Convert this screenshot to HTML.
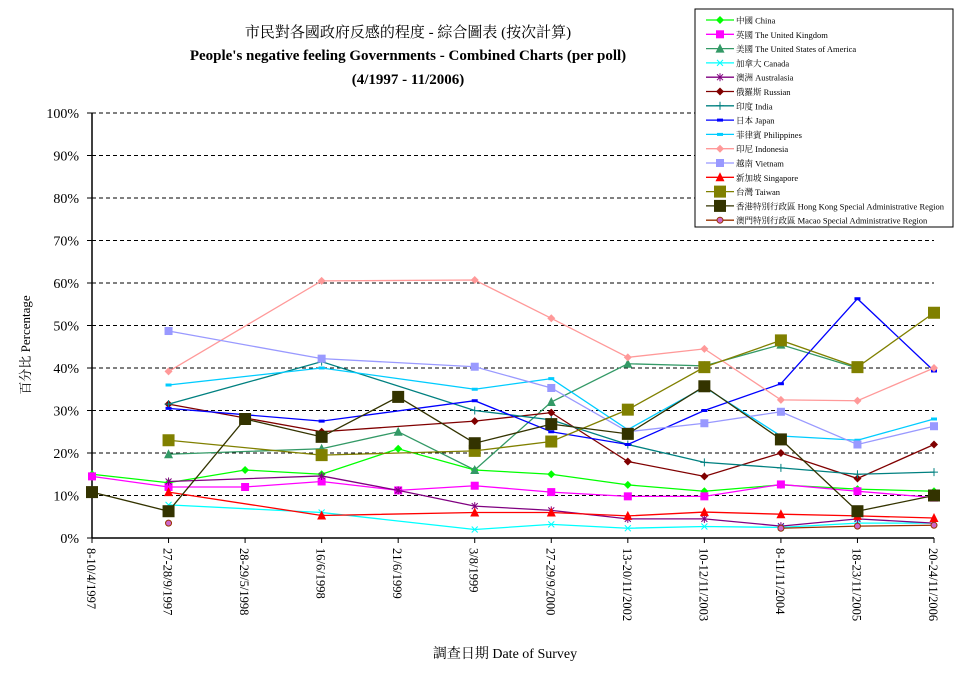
<!DOCTYPE html>
<html><head><meta charset="utf-8">
<style>
body{margin:0;background:#fff;width:974px;height:680px;overflow:hidden;font-family:"Liberation Serif","Noto Serif CJK SC",serif;}
svg text{font-family:"Liberation Serif","Noto Serif CJK SC",serif;}
</style></head>
<body>
<svg id="chart" width="974" height="680" xmlns="http://www.w3.org/2000/svg">
<text x="408" y="37" font-size="15" text-anchor="middle" font-family="'Liberation Serif','Noto Serif CJK TC',serif">市民對各國政府反感的程度 - 綜合圖表 (按次計算)</text>
<text x="408" y="60" font-size="15" font-weight="bold" text-anchor="middle">People's negative feeling Governments - Combined Charts (per poll)</text>
<text x="408" y="84" font-size="15" font-weight="bold" text-anchor="middle">(4/1997 - 11/2006)</text>
<g id="grid"></g><g id="axes"></g><g id="series"></g>
<text transform="translate(30,345) rotate(-90)" font-size="13" text-anchor="middle" font-family="'Liberation Serif','Noto Serif CJK TC',serif">百分比 Percentage</text>
<text x="505" y="658" font-size="14" text-anchor="middle" font-family="'Liberation Serif','Noto Serif CJK TC',serif">調查日期 Date of Survey</text>
<g id="legend"></g>
</svg>
<script>
const categories=["8-10/4/1997","27-28/9/1997","28-29/5/1998","16/6/1998","21/6/1999","3/8/1999","27-29/9/2000","13-20/11/2002","10-12/11/2003","8-11/11/2004","18-23/11/2005","20-24/11/2006"];
const yTicks=[0,10,20,30,40,50,60,70,80,90,100];
const seriesNames=["中國 China","英國 The United Kingdom","美國 The United States of America","加拿大 Canada","澳洲 Australasia","俄羅斯 Russian","印度 India","日本 Japan","菲律賓 Philippines","印尼 Indonesia","越南 Vietnam","新加坡 Singapore","台灣 Taiwan","香港特別行政區 Hong Kong Special Administrative Region","澳門特別行政區 Macao Special Administrative Region"];
const china=[15,13,16,15,21,16,15,12.5,11,12.5,11.5,11];
const uk=[14.5,12,12,13.3,11.2,12.3,10.8,9.8,9.8,12.6,11,9.5];
const usa=[null,19.7,null,21,25,16,32,41,40.5,45.5,40,null];
const canada=[null,7.8,null,6,null,2,3.2,2.3,2.7,2.5,3.5,3.5];
const australasia=[null,13.3,null,14.6,11.2,7.5,6.5,4.5,4.5,2.8,4.5,3.5];
const russia=[null,31.5,null,25,null,27.5,29.5,18,14.5,20,14,22];
const india=[null,31.5,null,41.5,null,30,27.8,22,17.8,16.5,15,15.5];
const japan=[null,30.5,null,27.5,null,32.3,25,22,30,36.3,56.3,39.3];
const philippines=[null,36,null,40,null,35,37.5,25.5,35.5,24,23,28];
const indonesia=[null,39.2,null,60.5,null,60.7,51.7,42.5,44.5,32.5,32.3,40];
const vietnam=[null,48.7,null,42.2,null,40.3,35.3,25,27,29.7,22,26.3];
const singapore=[null,10.8,null,5.3,null,6,6,5.2,6.1,5.6,5.2,4.7];
const taiwan=[null,23,null,19.5,null,20.5,22.7,30.2,40.2,46.5,40.2,53];
const hongkong=[10.8,6.3,28,23.8,33.2,22.3,26.8,24.5,35.7,23.2,6.3,10];
const macao=[null,3.5,null,null,null,null,null,null,null,2.3,2.8,3];

const X0=92,X1=934,Y0=538,Y1=113;
const xPos=i=>X0+(X1-X0)*i/(categories.length-1);
const yPos=v=>Y0-(Y0-Y1)*v/100;
const NS="http://www.w3.org/2000/svg";
function mk(tag,attrs,parent){const e=document.createElementNS(NS,tag);for(const k in attrs)e.setAttribute(k,attrs[k]);parent.appendChild(e);return e;}
const grid=document.getElementById('grid'),axes=document.getElementById('axes'),ser=document.getElementById('series'),leg=document.getElementById('legend');
yTicks.forEach(t=>{
  const y=yPos(t);
  if(t>0){const l=mk('line',{x1:X0,x2:X1,y1:y,y2:y,stroke:'#000','stroke-dasharray':'4,3','stroke-width':1},grid);
  
  }
  const tx=mk('text',{x:X0-13,y:y+5,'font-size':14,'text-anchor':'end'},axes);tx.textContent=t+'%';
  
  
  mk('line',{x1:X0-5,x2:X0,y1:y,y2:y,stroke:'#000'},axes);
});
mk('line',{x1:X0,x2:X0,y1:Y1,y2:Y0,stroke:'#000','stroke-width':1.5},axes);
mk('line',{x1:X0,x2:X1,y1:Y0,y2:Y0,stroke:'#000','stroke-width':1.5},axes);
categories.forEach((c,i)=>{
  const x=xPos(i);
  mk('line',{x1:x,x2:x,y1:Y0,y2:Y0+5,stroke:'#000'},axes);
  const t=mk('text',{transform:`translate(${x-5},548) rotate(90)`,'font-size':12.5,'font-family':'Liberation Sans, sans-serif'},axes);t.textContent=c;
  
  
});
const data=[china,uk,usa,canada,australasia,russia,india,japan,philippines,indonesia,vietnam,singapore,taiwan,hongkong,macao];
const colors=['#00ff00','#ff00ff','#339966','#00ffff','#800080','#800000','#008080','#0000ff','#00ccff','#ff9999','#9999ff','#ff0000','#808000','#333300','#993300'];
const markers=['diamond','square','triangle','x','star','diamond','plus','dash','dash','diamond','square','triangle','bigsquare','bigsquare','circle'];
const mfill=['#00ff00','#ff00ff','#339966','#00ffff','#800080','#800000','#008080','#0000ff','#00ccff','#ff9999','#9999ff','#ff0000','#808000','#333300','#cc66cc'];
const keys=['china','uk','usa','canada','australasia','russia','india','japan','philippines','indonesia','vietnam','singapore','taiwan','hong-kong','macao'];
const breakGaps=[false,false,false,false,false,false,false,false,false,false,false,false,false,false,true];
function marker(g,type,x,y,col,fill){
  let e;
  if(type==='diamond')e=mk('path',{d:`M${x} ${y-4}L${x+4} ${y}L${x} ${y+4}L${x-4} ${y}Z`,fill:fill},g);
  else if(type==='square')e=mk('rect',{x:x-4,y:y-4,width:8,height:8,fill:fill},g);
  else if(type==='bigsquare')e=mk('rect',{x:x-6,y:y-6,width:12,height:12,fill:fill},g);
  else if(type==='triangle')e=mk('path',{d:`M${x} ${y-5}L${x+4.5} ${y+4}L${x-4.5} ${y+4}Z`,fill:fill},g);
  else if(type==='x')e=mk('path',{d:`M${x-3} ${y-3}L${x+3} ${y+3}M${x+3} ${y-3}L${x-3} ${y+3}`,stroke:col,fill:'none'},g);
  else if(type==='star')e=mk('path',{d:`M${x-3} ${y-3}L${x+3} ${y+3}M${x+3} ${y-3}L${x-3} ${y+3}M${x} ${y-4}L${x} ${y+4}`,stroke:col,fill:'none'},g);
  else if(type==='plus')e=mk('path',{d:`M${x-4} ${y}L${x+4} ${y}M${x} ${y-4}L${x} ${y+4}`,stroke:col,fill:'none'},g);
  else if(type==='dash')e=mk('rect',{x:x-3,y:y-1.5,width:6,height:3,fill:fill},g);
  else e=mk('circle',{cx:x,cy:y,r:3,fill:fill,stroke:col},g);
  return e;
}
data.forEach((arr,s)=>{
  const g=mk('g',{},ser);
  
  
  const segs=[];let cur=[];const pts=[];
  arr.forEach((v,i)=>{
    if(v!==null){const p=[xPos(i),yPos(v)];pts.push(p);cur.push(p);}
    else if(breakGaps[s]&&cur.length){segs.push(cur);cur=[];}
  });
  if(cur.length)segs.push(cur);
  segs.forEach(sg=>{
    if(sg.length>1){const p=mk('polyline',{points:sg.map(p=>p.join(',')).join(' '),fill:'none',stroke:colors[s],'stroke-width':1.3},g);
    
    }
  });
  pts.forEach(p=>{const m=marker(g,markers[s],p[0],p[1],colors[s],mfill[s]);
  
  });
});
const lb=mk('rect',{x:695,y:9,width:258,height:218,fill:'#fff',stroke:'#000','stroke-width':1},leg);


seriesNames.forEach((n,s)=>{
  const y=20+s*14.3;
  const g=mk('g',{},leg);
  
  
  mk('line',{x1:706,x2:734,y1:y,y2:y,stroke:colors[s],'stroke-width':1.3},g);
  marker(g,markers[s],720,y,colors[s],mfill[s]);
  const t=mk('text',{x:736,y:y+3.5,'font-size':8.5,'font-family':"'Liberation Sans','Noto Sans CJK TC',sans-serif"},g);t.textContent=n;
});
</script>
</body></html>
